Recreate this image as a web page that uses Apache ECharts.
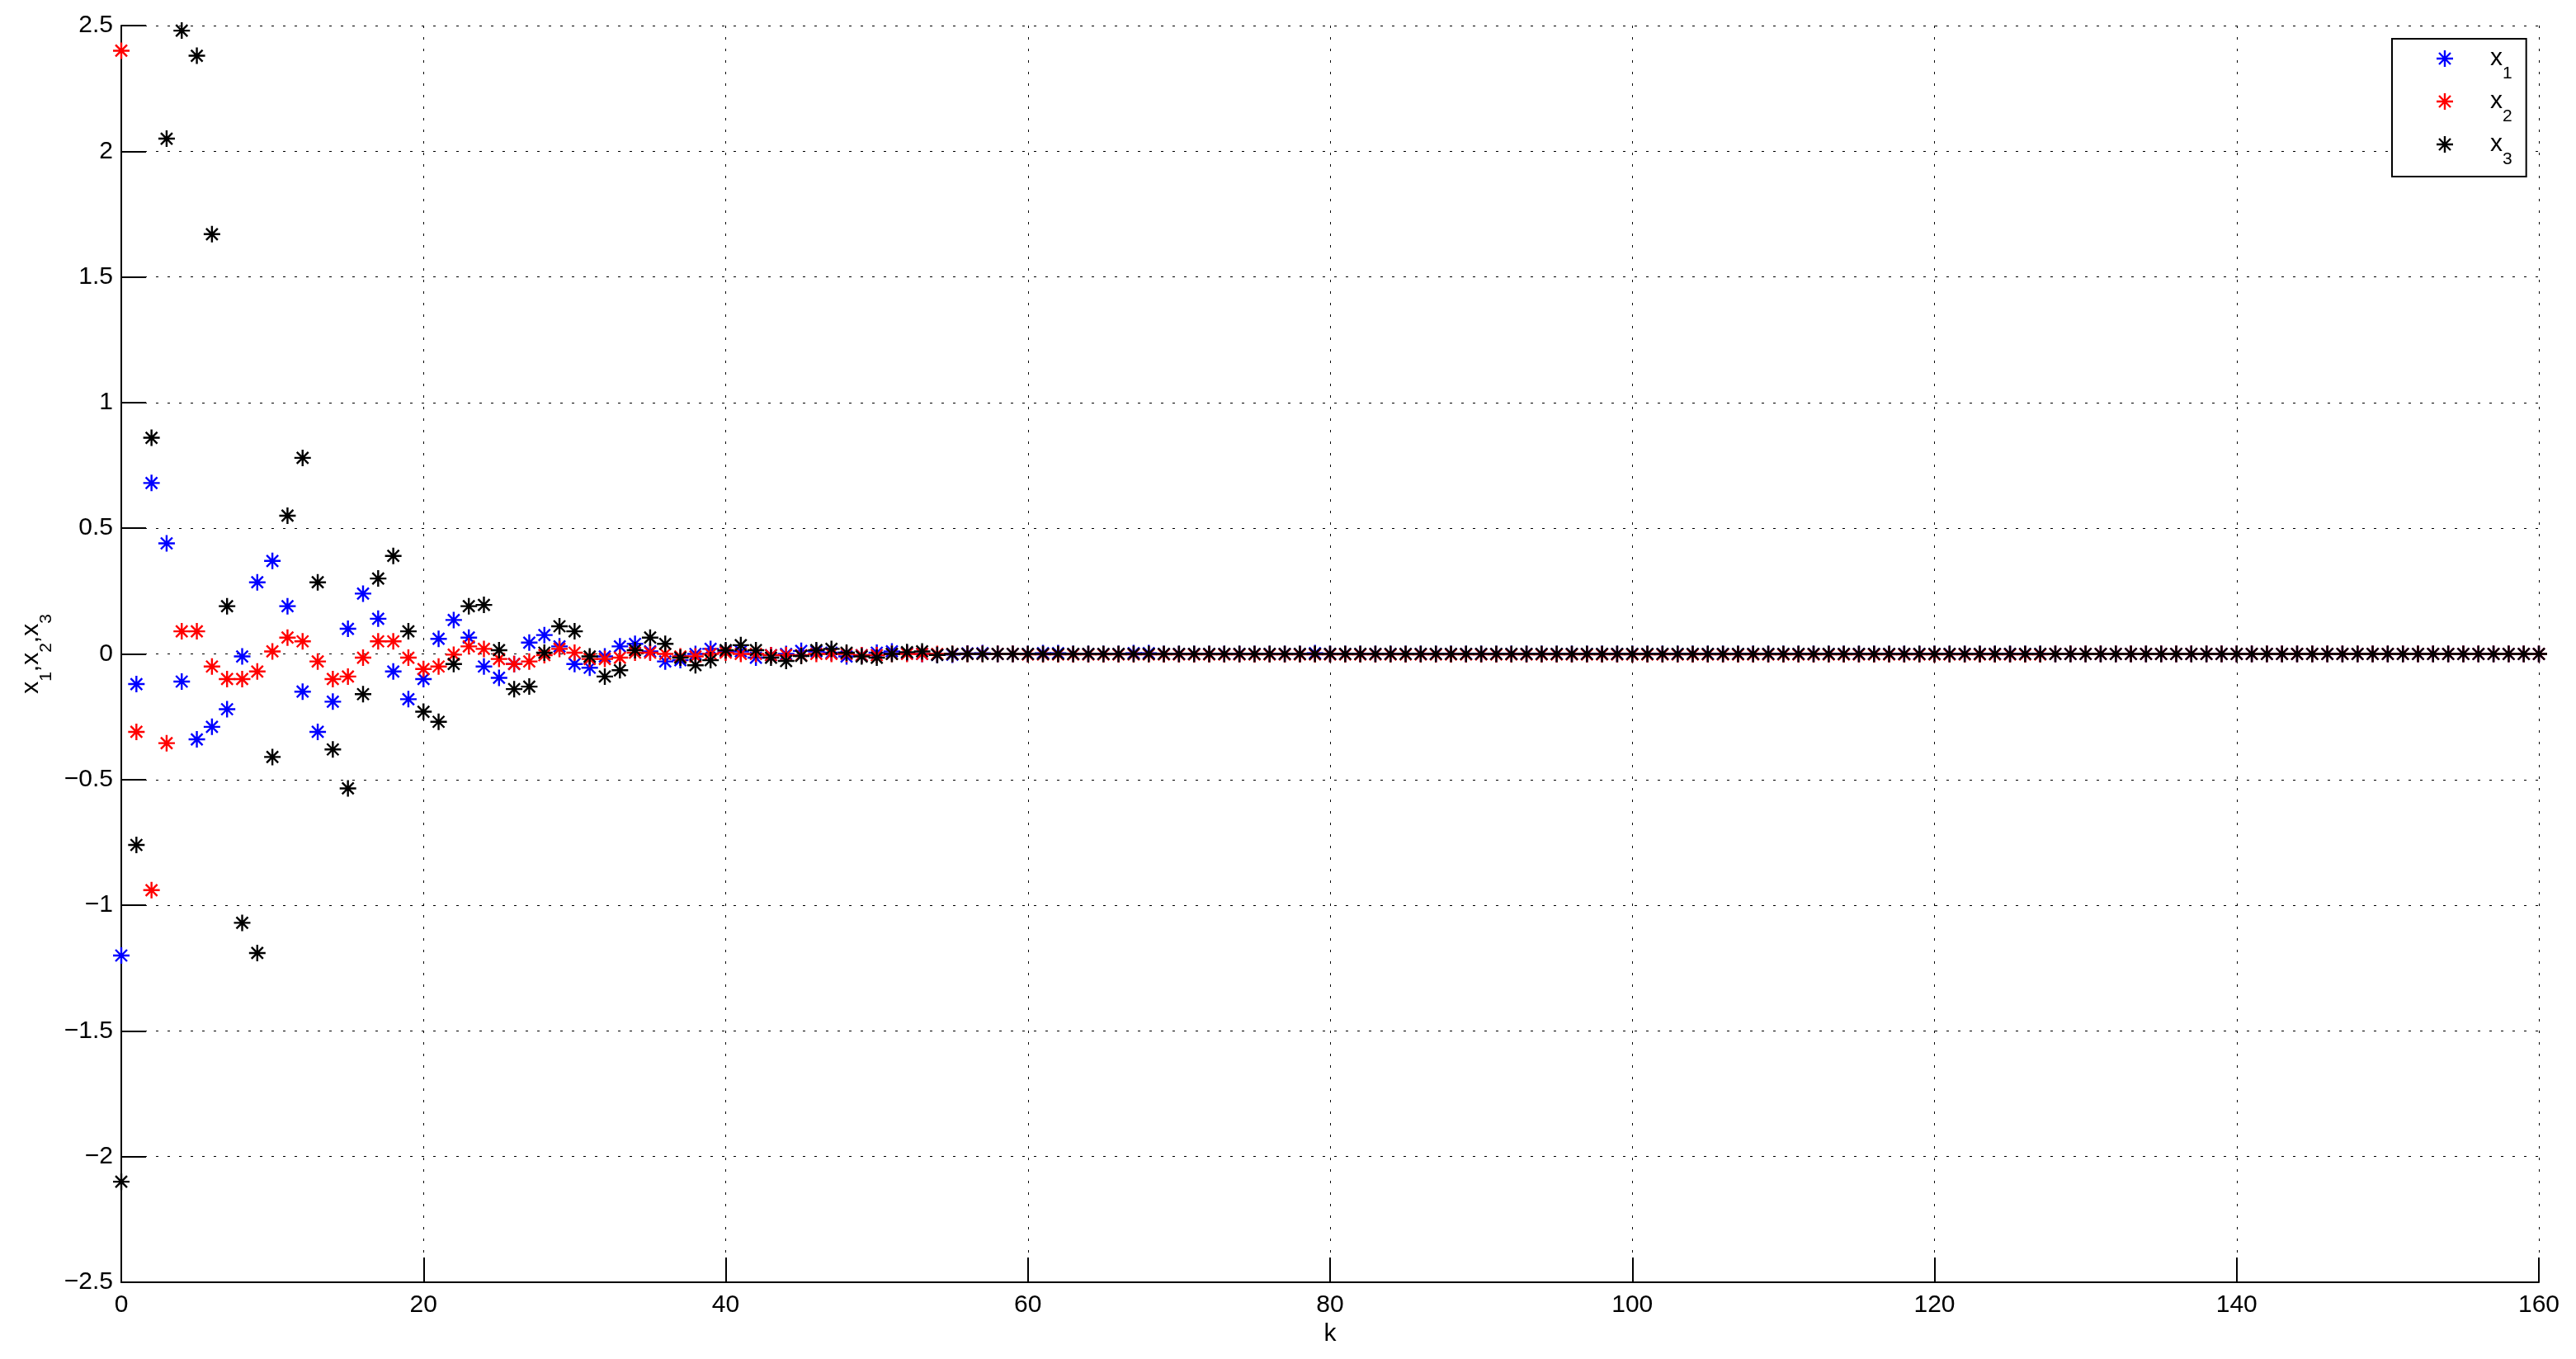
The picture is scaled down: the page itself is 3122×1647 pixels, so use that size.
<!DOCTYPE html>
<html>
<head>
<meta charset="utf-8">
<script src="https://cdn.jsdelivr.net/npm/echarts@6/dist/echarts.min.js"></script>
<style>
  html, body { margin: 0; padding: 0; background: #fff; }
  #chart { width: 3122px; height: 1647px; }
</style>
</head>
<body>
<div id="chart"></div>
<script>
  // values, k = 0 .. 160
  var x1 = [
    -1.2, -0.12, 0.68, 0.44, -0.11, -0.34, -0.29, -0.22, -0.01, 0.285,
    0.37, 0.19, -0.15, -0.31, -0.19, 0.10, 0.24, 0.14, -0.07, -0.18,
    -0.10, 0.06, 0.135, 0.065, -0.05, -0.095, -0.04, 0.045, 0.075, 0.03,
    -0.04, -0.055, -0.01, 0.03, 0.04, 0.01, -0.03, -0.025, 0, 0.02,
    0.01, 0.01, -0.015, -0.005, 0, 0.012, 0.01, 0.005, -0.01, -0.005,
    0.005, 0.01, 0.003, 0, -0.004, -0.003, 0.002, 0.003, 0, 0,
    0, 0.003, 0.003, 0, 0, 0, 0, 0.003, 0.003, 0,
    0, 0, 0, 0, 0, 0, 0, 0, 0, 0.003,
    0, 0, 0, 0, 0, 0, 0, 0, 0, 0,
    0, 0, 0, 0, 0, 0, 0, 0, 0, 0,
    0, 0, 0, 0, 0, 0, 0, 0, 0, 0,
    0, 0, 0, 0, 0, 0, 0, 0, 0, 0,
    0, 0, 0, 0, 0, 0, 0, 0, 0, 0,
    0, 0, 0, 0, 0, 0, 0, 0, 0, 0,
    0, 0, 0, 0, 0, 0, 0, 0, 0, 0,
    0, 0, 0, 0, 0, 0, 0, 0, 0, 0,
    0
  ];
  var x2 = [
    2.4, -0.31, -0.94, -0.355, 0.09, 0.09, -0.05, -0.10, -0.10, -0.07,
    0.01, 0.065, 0.05, -0.03, -0.10, -0.09, -0.015, 0.05, 0.05, -0.015,
    -0.06, -0.05, -0.003, 0.03, 0.02, -0.02, -0.04, -0.03, -0.005, 0.02,
    0.005, -0.02, -0.02, -0.015, 0.005, 0.005, 0, -0.01, -0.01, 0,
    0.005, 0, 0, -0.005, -0.005, -0.005, 0, 0, 0, -0.005,
    -0.005, 0, 0, 0, 0, 0, 0, 0, 0, 0,
    -0.002, -0.002, -0.002, -0.002, -0.002, -0.002, -0.002, -0.002, -0.002, -0.002,
    -0.002, -0.002, -0.002, -0.002, -0.002, -0.002, -0.002, -0.002, -0.002, -0.002,
    -0.002, -0.002, -0.002, -0.002, -0.002, -0.002, -0.002, -0.002, -0.002, -0.002,
    -0.002, -0.002, -0.002, -0.002, -0.002, -0.002, -0.002, -0.002, -0.002, -0.002,
    -0.002, -0.002, -0.002, -0.002, -0.002, -0.002, -0.002, -0.002, -0.002, -0.002,
    -0.002, -0.002, -0.002, -0.002, -0.002, -0.002, -0.002, -0.002, -0.002, -0.002,
    -0.002, -0.002, -0.002, -0.002, -0.002, -0.002, -0.002, -0.002, 0, 0,
    0, 0, 0, 0, 0, 0, 0, 0, 0, 0,
    0, 0, 0, 0, 0, 0, 0, 0, 0, 0,
    0, 0, 0, 0, 0, 0, 0, 0, 0, 0,
    0
  ];
  var x3 = [
    -2.1, -0.76, 0.86, 2.05, 2.48, 2.38, 1.67, 0.19, -1.07, -1.19,
    -0.41, 0.55, 0.78, 0.285, -0.38, -0.535, -0.16, 0.30, 0.39, 0.09,
    -0.23, -0.27, -0.04, 0.19, 0.195, 0.015, -0.14, -0.13, 0.005, 0.11,
    0.09, -0.01, -0.09, -0.065, 0.015, 0.065, 0.04, -0.015, -0.045, -0.025,
    0.015, 0.035, 0.015, -0.015, -0.028, -0.008, 0.015, 0.02, 0.005, -0.01,
    -0.015, 0, 0.007, 0.01, -0.004, 0, 0, 0, 0, 0,
    0, 0, 0, 0, 0, 0, 0, 0, 0, 0,
    0, 0, 0, 0, 0, 0, 0, 0, 0, 0,
    0, 0, 0, 0, 0, 0, 0, 0, 0, 0,
    0, 0, 0, 0, 0, 0, 0, 0, 0, 0,
    0, 0, 0, 0, 0, 0, 0, 0, 0, 0,
    0, 0, 0, 0, 0, 0, 0, 0, 0, 0,
    0, 0, 0, 0, 0, 0, 0, 0, 0, 0,
    0, 0, 0, 0, 0, 0, 0, 0, 0, 0,
    0, 0, 0, 0, 0, 0, 0, 0, 0, 0,
    0, 0, 0, 0, 0, 0, 0, 0, 0, 0,
    0
  ];
  var seriesNames = ["x1", "x2", "x3"];
  var seriesColors = ["#0000ff", "#ff0000", "#000000"];
  var xTicks = [0, 20, 40, 60, 80, 100, 120, 140, 160];
  var yTicks = [-2.5, -2, -1.5, -1, -0.5, 0, 0.5, 1, 1.5, 2, 2.5];

  var font = "'Liberation Sans', Arial, Helvetica, sans-serif";
  // matlab style '*' marker: plus + cross, as one filled path
  var STAR =
    "path://M8.8 0L11.2 0L11.2 20L8.8 20Z M0 8.8L20 8.8L20 11.2L0 11.2Z " +
    "M3.85 2.15L17.85 16.15L16.15 17.85L2.15 3.85Z M16.15 2.15L17.85 3.85L3.85 17.85L2.15 16.15Z";

  function pairs(arr) {
    return arr.map(function (v, i) {
      return [i, v];
    });
  }

  var subRich = {
    v: { fontSize: 30, lineHeight: 30, verticalAlign: "top", color: "#000", fontFamily: font },
    s: { fontSize: 21, lineHeight: 21, verticalAlign: "top", padding: [23, 0, 0, 0], color: "#000", fontFamily: font },
  };

  var chart = echarts.init(document.getElementById("chart"), null, { renderer: "canvas" });
  var option = {
    animation: false,
    backgroundColor: "#fff",
    grid: {
      left: 147,
      right: 45,
      top: 31,
      bottom: 93,
      containLabel: false,
      outerBoundsMode: "none",
    },
    legend: {
      orient: "vertical",
      left: 2899,
      top: 47,
      padding: [9, 17, 10, 54],
      itemGap: 8,
      itemWidth: 20,
      itemHeight: 20,
      borderColor: "#000",
      borderWidth: 2,
      backgroundColor: "#fff",
      icon: STAR,
      data: seriesNames,
      selectedMode: false,
      formatter: function (name) {
        return "{v|x}{s|" + name.slice(1) + "}";
      },
      textStyle: {
        color: "#000",
        fontFamily: font,
        rich: {
          v: { fontSize: 30, lineHeight: 30, verticalAlign: "top", padding: [0, 0, 0, 40], color: "#000", fontFamily: font },
          s: subRich.s,
        },
      },
    },
    xAxis: {
      type: "value",
      min: xTicks[0],
      max: xTicks[xTicks.length - 1],
      interval: xTicks[1] - xTicks[0],
      name: "k",
      nameLocation: "middle",
      nameGap: 48,
      nameTextStyle: { color: "#000", fontSize: 30, fontFamily: font },
      axisLine: { show: true, onZero: false, lineStyle: { color: "#000", width: 2 } },
      axisTick: { show: true, inside: true, length: 30, lineStyle: { color: "#000", width: 2 } },
      axisLabel: { color: "#000", fontSize: 30, fontFamily: font, margin: 13 },
      splitLine: { show: true, lineStyle: { color: "#000", width: 1, type: [3, 11] } },
    },
    yAxis: {
      type: "value",
      min: yTicks[0],
      max: yTicks[yTicks.length - 1],
      interval: yTicks[1] - yTicks[0],
      name: "{v|x}{s|1}{v|,x}{s|2}{v|,x}{s|3}",
      nameLocation: "middle",
      nameGap: 88,
      nameTextStyle: { color: "#000", fontFamily: font, rich: subRich },
      axisLine: { show: true, onZero: false, lineStyle: { color: "#000", width: 2 } },
      axisTick: { show: true, inside: true, length: 30, lineStyle: { color: "#000", width: 2 } },
      axisLabel: {
        color: "#000",
        fontSize: 30,
        fontFamily: font,
        margin: 10,
        formatter: function (v) {
          return String(v).replace("-", "\u2212");
        },
      },
      splitLine: { show: true, lineStyle: { color: "#000", width: 1, type: [3, 11] } },
    },
    series: [x1, x2, x3].map(function (arr, i) {
      return {
        name: seriesNames[i],
        type: "scatter",
        symbol: STAR,
        symbolSize: 20,
        itemStyle: { color: seriesColors[i], opacity: 1 },
        emphasis: { disabled: true },
        data: pairs(arr),
        z: 2 + i,
      };
    }),
  };
  chart.setOption(option);
</script>
</body>
</html>
